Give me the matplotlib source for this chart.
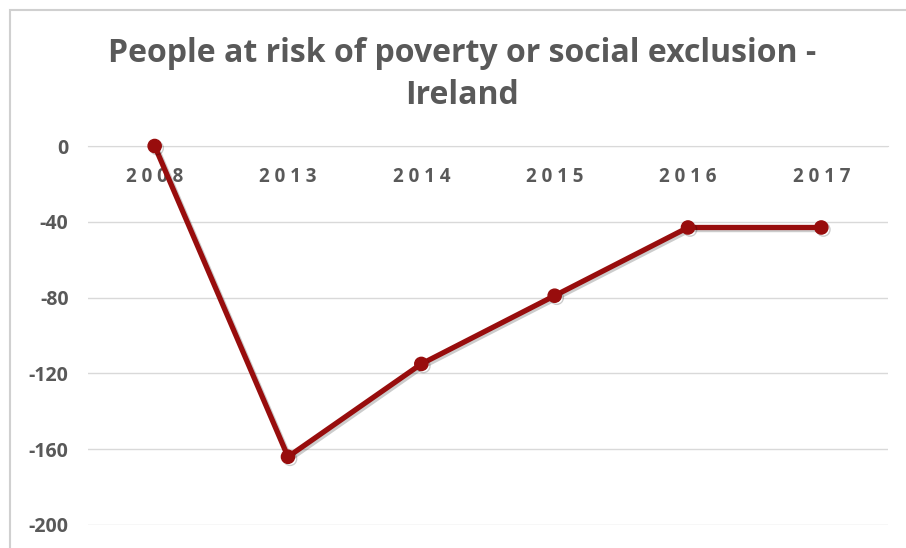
import matplotlib
matplotlib.use("Agg")
import matplotlib.pyplot as plt
from matplotlib.patches import Rectangle
import matplotlib.patheffects as pe

years = ["2008", "2013", "2014", "2015", "2016", "2017"]
values = [0, -164, -115, -79, -43, -43]
yticks = [0, -40, -80, -120, -160, -200]

W, H = 906, 548
fig = plt.figure(figsize=(W / 100, H / 100), dpi=100)
fig.patch.set_facecolor("white")

# outer chart frame (left and top edges visible)
fig.add_artist(Rectangle((9.5 / W, -0.1), 1.2, (H - 10.5) / H + 0.1,
                         transform=fig.transFigure, fill=False,
                         edgecolor="#d0d0d0", linewidth=1.5))

ax = fig.add_axes([88 / W, 1 - 525 / H, 800 / W, (525 - 146) / H])
x = list(range(len(years)))
ax.plot(x, values, color="#980d0d", linewidth=3.8, marker="o", markersize=9.5,
        solid_capstyle="round", clip_on=False,
        path_effects=[pe.SimpleLineShadow(offset=(1.5, -1.5), alpha=0.2),
                      pe.Normal()], zorder=3)

ax.set_xlim(-0.5, len(years) - 0.5)
ax.set_ylim(-200, 0)
ax.set_yticks(yticks)
ax.set_yticklabels([str(v) for v in yticks])
ax.yaxis.grid(True, color="#d9d9d9", linewidth=1)
ax.set_axisbelow(True)
for s in ["left", "right", "top"]:
    ax.spines[s].set_visible(False)
ax.spines["bottom"].set_position(("data", 0))
ax.spines["bottom"].set_color("#d9d9d9")
ax.set_xticks(x)
ax.set_xticklabels([" ".join(y) for y in years])
ax.tick_params(axis="x", length=0, pad=15, labelsize=13.5,
               labelcolor="#595959")
ax.tick_params(axis="y", length=0, pad=14, labelsize=14,
               labelcolor="#595959")
for lab in ax.get_xticklabels():
    lab.set_fontfamily("Open Sans")
    lab.set_fontweight("bold")
for lab in ax.get_yticklabels():
    lab.set_fontfamily("Open Sans")
    lab.set_fontweight("bold")

fig.text(462 / W, 1 - 53 / H, "People at risk of poverty or social exclusion -",
         ha="center", va="center", fontsize=23, fontweight="bold",
         family="Open Sans", color="#595959")
fig.text(462 / W, 1 - 96 / H, "Ireland",
         ha="center", va="center", fontsize=23, fontweight="bold",
         family="Open Sans", color="#595959")

fig.savefig("out.png", dpi=100, facecolor="white")
